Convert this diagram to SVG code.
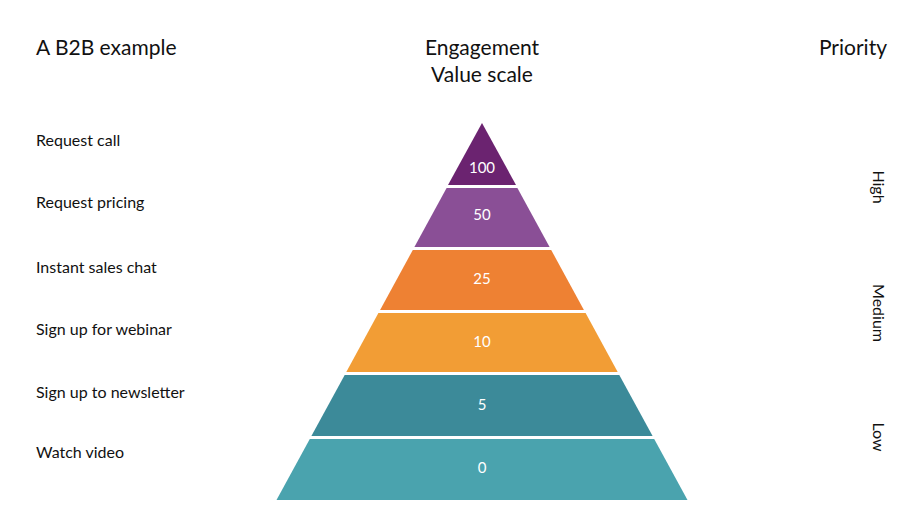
<svg xmlns="http://www.w3.org/2000/svg" width="920" height="518" viewBox="0 0 920 518">
<style>
text{font-family:Lato,"Open Sans","Liberation Sans",sans-serif;fill:#111}
.h{font-size:21px}
.l{font-size:16px}
.v{font-size:15px;fill:#fff;text-anchor:middle}
.r{font-size:16px;text-anchor:middle}
</style>
<rect width="920" height="518" fill="#fff"/>
<text class="h" x="36" y="55">A B2B example</text>
<text class="h" x="482" y="55" text-anchor="middle">Engagement</text>
<text class="h" x="482" y="82" text-anchor="middle">Value scale</text>
<text class="h" x="887" y="55" text-anchor="end">Priority</text>
<g id="labels">
<text class="l" x="36" y="146">Request call</text>
<text class="l" x="36" y="208">Request pricing</text>
<text class="l" x="36" y="273">Instant sales chat</text>
<text class="l" x="36" y="335">Sign up for webinar</text>
<text class="l" x="36" y="398">Sign up to newsletter</text>
<text class="l" x="36" y="458">Watch video</text>
</g>
<g id="band100"><polygon points="482,123 516,185 448,185" fill="#6b2370"/><text class="v" x="482" y="173">100</text></g>
<g id="band50"><polygon points="446.6,188 517.4,188 549.6,247 414.4,247" fill="#8a4f96"/><text class="v" x="482" y="220">50</text></g>
<g id="band25"><polygon points="412.8,250 551.2,250 583.9,310 380.1,310" fill="#ee8133"/><text class="v" x="482" y="284">25</text></g>
<g id="band10"><polygon points="378.4,313 585.6,313 617.7,372 346.3,372" fill="#f29d35"/><text class="v" x="482" y="347">10</text></g>
<g id="band5"><polygon points="344.7,375 619.3,375 652.6,436 311.4,436" fill="#3c8a99"/><text class="v" x="482" y="410">5</text></g>
<g id="band0"><polygon points="309.8,439 654.2,439 687.5,500 276.5,500" fill="#4aa3ae"/><text class="v" x="482" y="473">0</text></g>
<g id="priority">
<text class="r" transform="translate(873,187) rotate(90)">High</text>
<text class="r" transform="translate(873,313) rotate(90)">Medium</text>
<text class="r" transform="translate(873,437) rotate(90)">Low</text>
</g>
<g id="connectors"></g>
</svg>
